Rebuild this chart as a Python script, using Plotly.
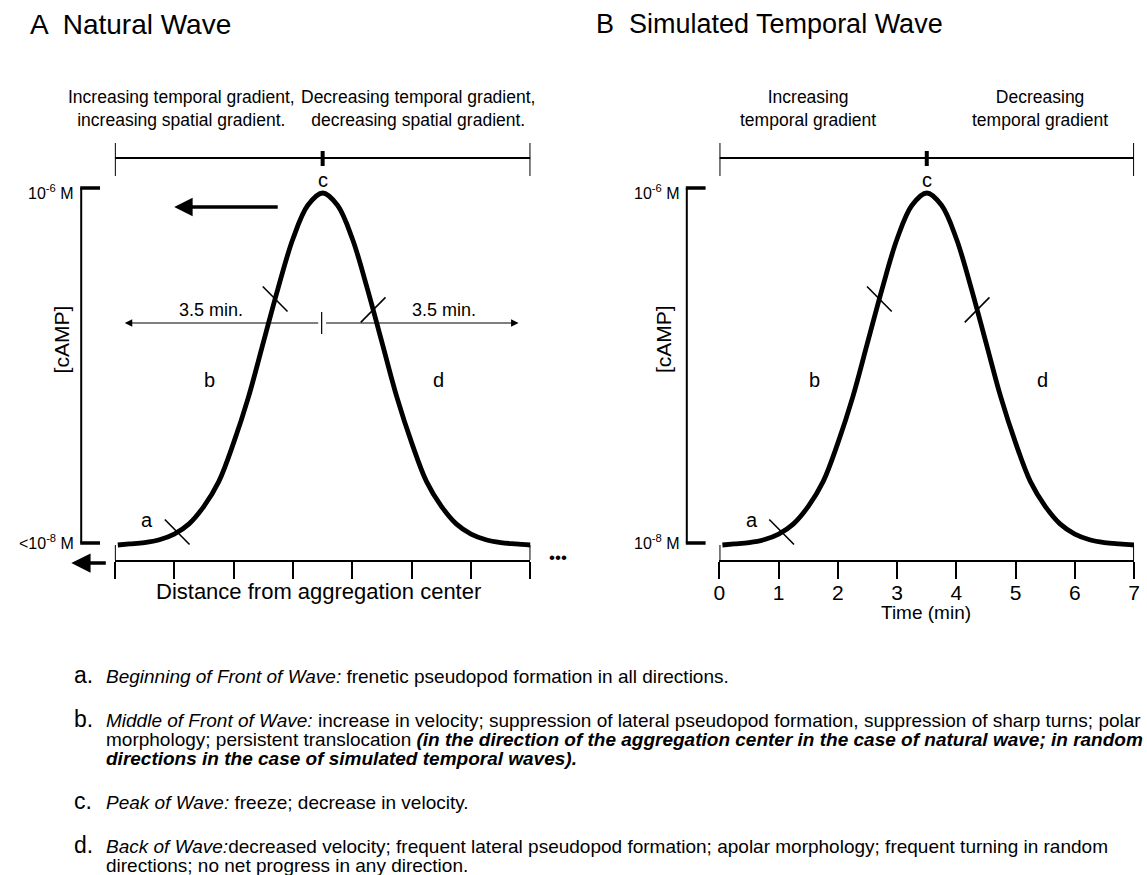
import numpy as np
import plotly.graph_objects as go

W, H = 1147, 875

# ---------------- data ----------------
time_min = [0.05, 0.25, 0.5, 0.75, 1.0, 1.25, 1.5, 1.75, 2.0, 2.25, 2.5, 2.75, 3.0, 3.25,
            3.5, 3.75, 4.0, 4.25, 4.5, 4.75, 5.0, 5.25, 5.5, 5.75, 6.0, 6.25, 6.5, 6.75, 7.0]
camp_rel = [0.0, 0.003, 0.007, 0.015, 0.031, 0.06, 0.11, 0.18, 0.29, 0.42, 0.575, 0.73, 0.87, 0.965,
            1.0, 0.965, 0.87, 0.73, 0.575, 0.42, 0.29, 0.18, 0.11, 0.06, 0.031, 0.015, 0.007, 0.003, 0.0]
distance = time_min  # same wave profile drawn along distance in panel A
tick_vals = [0, 1, 2, 3, 4, 5, 6, 7]
tick_text = ["0", "1", "2", "3", "4", "5", "6", "7"]
cross_pos = {"a": 1.05, "b": 2.7, "d": 4.35}
phase_labels = {"a": (0.55, 0.07), "b": (1.6, 0.47), "d": (5.45, 0.47)}

# ---------------- geometry (pixels) ----------------
XA0, XA1 = 110, 530
XB0, XB1 = 721, 1140
Y_AX = 560
Y_BASE, Y_PEAK = 545, 193
PPU_Y = (Y_BASE - Y_PEAK)
Y_TOP = 188
y_lo = -(Y_AX - Y_BASE) / PPU_Y
y_hi = 1 + (Y_PEAK - Y_TOP) / PPU_Y

def px(x):
    return x / W

def py(y):
    return 1 - y / H

FONT = "Liberation Sans, Arial, Helvetica, sans-serif"

fig = go.Figure()
fig.add_trace(go.Scatter(x=distance, y=camp_rel, mode="lines", line=dict(color="black", width=4.8, shape="spline"),
                         xaxis="x", yaxis="y", showlegend=False, hoverinfo="skip"))
fig.add_trace(go.Scatter(x=time_min, y=camp_rel, mode="lines", line=dict(color="black", width=4.8, shape="spline"),
                         xaxis="x2", yaxis="y2", showlegend=False, hoverinfo="skip"))

axis_common = dict(range=[0, 7], showline=True, linewidth=2, linecolor="black", ticks="outside",
                   ticklen=17, tickwidth=2, tickcolor="black", tickvals=tick_vals, showgrid=False,
                   zeroline=False, fixedrange=True)
ydom = [py(Y_AX), py(Y_TOP)]
fig.update_layout(
    width=W, height=H, margin=dict(l=0, r=0, t=0, b=0),
    paper_bgcolor="white", plot_bgcolor="white",
    font=dict(family=FONT, color="black"),
    xaxis=dict(domain=[px(XA0), px(XA1)], anchor="y", showticklabels=False, **axis_common),
    yaxis=dict(domain=ydom, range=[y_lo, y_hi], visible=False, anchor="x"),
    xaxis2=dict(domain=[px(XB0), px(XB1)], anchor="y2", ticktext=tick_text, showticklabels=True,
                tickfont=dict(size=21), ticklabelstandoff=-4, **axis_common),
    yaxis2=dict(domain=ydom, range=[y_lo, y_hi], visible=False, anchor="x2"),
)

shapes = []
annotations = []

def line(x0, y0, x1, y1, w=2, xref="paper", yref="paper", color="black"):
    shapes.append(dict(type="line", x0=x0, y0=y0, x1=x1, y1=y1, xref=xref, yref=yref,
                       line=dict(color=color, width=w)))

def text(x, y, s, size=17, xanchor="center", yanchor="middle", angle=0):
    annotations.append(dict(x=x, y=y, xref="paper", yref="paper", text=s, showarrow=False,
                            font=dict(size=size, family=FONT, color="black"),
                            xanchor=xanchor, yanchor=yanchor, textangle=angle))

for xa, ya, ppu_x in (("x", "y", (XA1 - XA0) / 7), ("x2", "y2", (XB1 - XB0) / 7)):
    # top bracket
    line(0, py(158), 7, py(158), 2, xref=xa)
    line(0, py(143), 0, py(176), 2, xref=xa)
    line(7, py(143), 7, py(176), 2, xref=xa)
    line(3.5, py(151), 3.5, py(166), 4, xref=xa)
    # end ticks of the x axis reaching up to the curve
    line(0, py(Y_BASE), 0, py(Y_AX), 2, xref=xa)
    line(7, py(Y_BASE), 7, py(Y_AX), 2, xref=xa)
    # crosses: short diagonal strokes across the curve
    for k, pos in cross_pos.items():
        yv = float(np.interp(pos, time_min, camp_rel))
        half = 12.5
        ddx = half / ppu_x
        ddy = half / PPU_Y
        sgn = 1 if pos < 3.5 else -1
        line(pos - ddx, yv + sgn * ddy, pos + ddx, yv - sgn * ddy, 1.6, xref=xa, yref=ya)
    # phase letters
    for k, (xv, yv) in phase_labels.items():
        annotations.append(dict(x=xv, y=yv, xref=xa, yref=ya, text=k, showarrow=False,
                                font=dict(size=20, family=FONT, color="black"),
                                xanchor="center", yanchor="middle"))
    annotations.append(dict(x=3.5, y=py(180), xref=xa, yref="paper", text="c", showarrow=False,
                            font=dict(size=20, family=FONT, color="black"),
                            xanchor="center", yanchor="middle"))

# y brackets
for xb in (76, 688):
    line(px(xb), py(188), px(xb), py(543), 2)
    line(px(xb - 1), py(188), px(xb + 19), py(188), 3.5)
    line(px(xb - 1), py(543), px(xb + 19), py(543), 3.5)

# y labels
text(px(71), py(192), "10<sup>-6</sup> M", 16, xanchor="right")
text(px(71), py(542), "&lt;10<sup>-8</sup> M", 16, xanchor="right")
text(px(683), py(192), "10<sup>-6</sup> M", 16, xanchor="right")
text(px(683), py(542), "10<sup>-8</sup> M", 16, xanchor="right")
text(px(56), py(339), "[cAMP]", 21, angle=-90)
text(px(664), py(339), "[cAMP]", 21, angle=-90)

# titles
text(px(22), py(24), "A  Natural Wave", 28, xanchor="left")
text(px(594), py(24), "B  Simulated Temporal Wave", 27, xanchor="left")

# headers
text(px(177), py(109), "Increasing temporal gradient,<br>increasing spatial gradient.", 17.5)
text(px(416), py(109), "Decreasing temporal gradient,<br>decreasing spatial gradient.", 17.5)
text(px(810), py(109), "Increasing<br>temporal gradient", 17.5)
text(px(1045), py(109), "Decreasing<br>temporal gradient", 17.5)

# axis titles
text(px(316), py(591), "Distance from aggregation center", 22)
text(px(930), py(612), "Time (min)", 19)
text(px(558), py(557), "•••", 17)

# arrows
def arrow(xh, yh, xt, yt, w, size):
    annotations.append(dict(x=px(xh), y=py(yh), xref="paper", yref="paper", ax=xt - xh, ay=yt - yh,
                            axref="pixel", ayref="pixel", showarrow=True, arrowhead=2, arrowwidth=w,
                            arrowsize=size, arrowcolor="black", text=""))

arrow(170, 207, 275, 207, 3.5, 1.05)
arrow(66, 563, 102, 563, 3.5, 1.1)
arrow(120, 323, 315, 323, 1, 1.5)
arrow(518, 323, 324, 323, 1, 1.5)
line(px(319), py(312), px(319), py(334), 1.2)
text(px(207), py(310), "3.5 min.", 18)
text(px(443), py(310), "3.5 min.", 18)

# legend text at the bottom
items = [
    ("a.", 676, ["<i>Beginning of Front of Wave:</i> frenetic pseudopod formation in all directions."]),
    ("b.", 720, ["<i>Middle of Front of Wave:</i> increase in velocity; suppression of lateral pseudopod formation, suppression of sharp turns; polar",
                 "morphology; persistent translocation <b><i>(in the direction of the aggregation center in the case of natural wave; in random</i></b>",
                 "<b><i>directions in the case of simulated temporal waves).</i></b>"]),
    ("c.", 802, ["<i>Peak of Wave:</i> freeze; decrease in velocity."]),
    ("d.", 846, ["<i>Back of Wave:</i>decreased velocity; frequent lateral pseudopod formation; apolar morphology; frequent turning in random",
                 "directions; no net progress in any direction."]),
]
for lab, y0, lines_ in items:
    text(px(67), py(y0 - 1), lab, 23, xanchor="left")
    for i, s in enumerate(lines_):
        text(px(99), py(y0 + i * 19), s, 19, xanchor="left")

fig.update_layout(shapes=shapes, annotations=annotations)
fig.write_html("out.html")
